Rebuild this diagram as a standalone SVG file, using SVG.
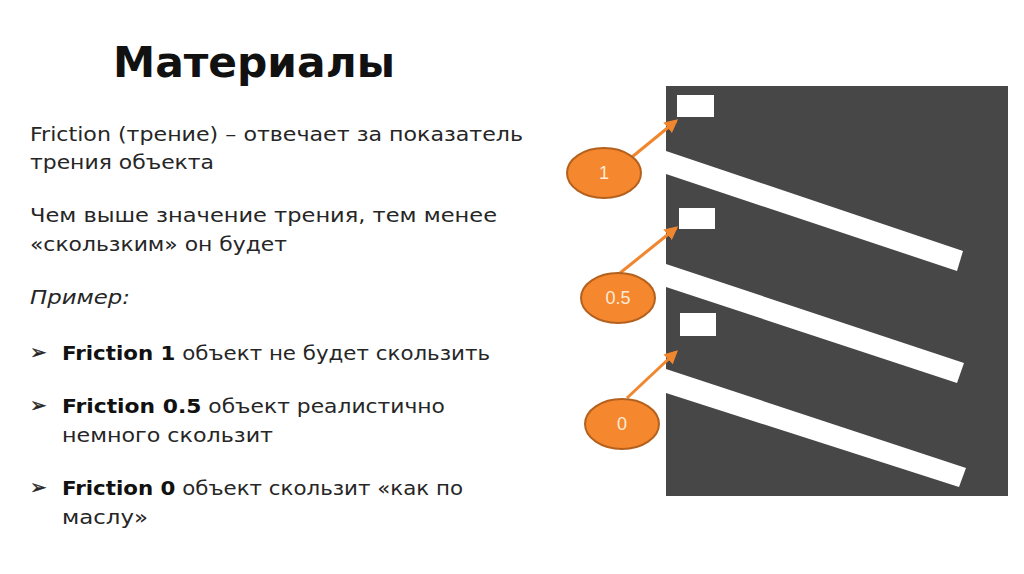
<svg xmlns="http://www.w3.org/2000/svg" width="1024" height="574" viewBox="0 0 1024 574">
<style>
.title{font-family:"DejaVu Sans","Noto Sans",sans-serif;font-weight:bold;font-size:43px;fill:#111}
.body{font-family:"DejaVu Sans","Noto Sans",sans-serif;font-size:19px;fill:#262626}
.b{font-weight:bold;fill:#111}
.it{font-style:italic}
.bul{font-family:"DejaVu Sans",sans-serif;font-size:20px;fill:#262626;stroke:#262626;stroke-width:0.4}
.ell{fill:#F5872F;stroke:#B5611E;stroke-width:2}
.lbl{font-family:"Liberation Sans",Arial,sans-serif;font-size:18px;fill:#FDEBD6;text-anchor:middle}
.strip{fill:#ffffff}
.box{fill:#ffffff}
.arr{stroke:#F0862E;stroke-width:3;fill:none;marker-end:url(#ah)}
</style>
<defs>
<marker id="ah" viewBox="0 0 10 10" refX="8" refY="5" markerWidth="4.5" markerHeight="4.5" orient="auto" markerUnits="strokeWidth">
<path d="M0,0 L10,5 L0,10 z" fill="#F0862E"/>
</marker>
</defs>
<rect width="1024" height="574" fill="#ffffff"/>
<text class="title" x="113" y="77" textLength="282" lengthAdjust="spacingAndGlyphs">Материалы</text>
<g id="text">
<text class="body" x="30" y="141" textLength="493" lengthAdjust="spacingAndGlyphs">Friction (трение) – отвечает за показатель</text>
<text class="body" x="30" y="169" textLength="184" lengthAdjust="spacingAndGlyphs">трения объекта</text>
<text class="body" x="30" y="222" textLength="467" lengthAdjust="spacingAndGlyphs">Чем выше значение трения, тем менее</text>
<text class="body" x="30" y="251" textLength="257" lengthAdjust="spacingAndGlyphs">«скользким» он будет</text>
<text class="body it" x="30" y="304" textLength="100" lengthAdjust="spacingAndGlyphs">Пример:</text>
<text class="bul" x="30" y="359">➢</text>
<text class="body" x="62" y="360" textLength="428" lengthAdjust="spacingAndGlyphs"><tspan class="b">Friction 1</tspan> объект не будет скользить</text>
<text class="bul" x="30" y="412">➢</text>
<text class="body" x="62" y="413" textLength="383" lengthAdjust="spacingAndGlyphs"><tspan class="b">Friction 0.5</tspan> объект реалистично</text>
<text class="body" x="62" y="442" textLength="211" lengthAdjust="spacingAndGlyphs">немного скользит</text>
<text class="bul" x="30" y="494">➢</text>
<text class="body" x="62" y="495" textLength="401" lengthAdjust="spacingAndGlyphs"><tspan class="b">Friction 0</tspan> объект скользит «как по</text>
<text class="body" x="62" y="524" textLength="86" lengthAdjust="spacingAndGlyphs">маслу»</text>
</g>
<g id="scene">
<rect x="666" y="86" width="342" height="410" fill="#474747"/>
<polygon class="strip" points="666,151 963,251 957,271 666,174"/>
<polygon class="strip" points="666,264 964,363 957,383 666,287"/>
<polygon class="strip" points="666,369 966,468 959,487 666,393"/>
<rect class="box" x="677" y="95" width="37" height="22"/>
<rect class="box" x="679" y="208" width="36" height="21"/>
<rect class="box" x="680" y="313" width="36" height="23"/>
</g>
<g id="connectors">
<line class="arr" x1="632" y1="157" x2="676" y2="121"/>
<line class="arr" x1="620" y1="273" x2="676" y2="228"/>
<line class="arr" x1="627" y1="398" x2="676" y2="352"/>
</g>
<g id="node-1">
<ellipse class="ell" cx="604" cy="173" rx="37" ry="25"/>
<text class="lbl" x="604" y="179">1</text>
</g>
<g id="node-05">
<ellipse class="ell" cx="618" cy="298" rx="37" ry="25"/>
<text class="lbl" x="618" y="304">0.5</text>
</g>
<g id="node-0">
<ellipse class="ell" cx="622" cy="424" rx="37" ry="25"/>
<text class="lbl" x="622" y="430">0</text>
</g>
</svg>
